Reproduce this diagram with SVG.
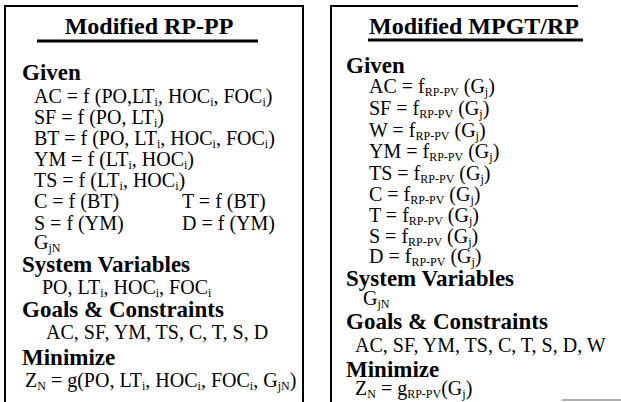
<svg xmlns="http://www.w3.org/2000/svg" width="621" height="402" viewBox="0 0 621 402">
<style>
text{font-family:"Liberation Serif","Times New Roman",serif;fill:#000}
.title{font-size:24px;font-weight:bold}
.head{font-size:23px;font-weight:bold}
.body{font-size:20px}
.sub{font-size:12px}
.frame{fill:none;stroke:#000;stroke-width:2}
.rule{stroke:#000;stroke-width:3}
</style>
<rect width="621" height="402" fill="#fff"/>
<g id="left-panel">
<path class="frame" d="M5,403 V6 H303 V403"/>
<text class="title" x="149" y="34" text-anchor="middle">Modified RP-PP</text>
<line class="rule" x1="37" y1="41" x2="258" y2="41"/>
<text class="head" x="22" y="80">Given</text>
<text class="body" x="34" y="103">AC = f (PO,LT<tspan class="sub" dy="3">i</tspan><tspan dy="-3">, HOC</tspan><tspan class="sub" dy="3">i</tspan><tspan dy="-3">, FOC</tspan><tspan class="sub" dy="3">i</tspan><tspan dy="-3">)</tspan></text>
<text class="body" x="34" y="124">SF = f (PO, LT<tspan class="sub" dy="3">i</tspan><tspan dy="-3">)</tspan></text>
<text class="body" x="34" y="145">BT = f (PO, LT<tspan class="sub" dy="3">i</tspan><tspan dy="-3">, HOC</tspan><tspan class="sub" dy="3">i</tspan><tspan dy="-3">, FOC</tspan><tspan class="sub" dy="3">i</tspan><tspan dy="-3">)</tspan></text>
<text class="body" x="34" y="166">YM = f (LT<tspan class="sub" dy="3">i</tspan><tspan dy="-3">, HOC</tspan><tspan class="sub" dy="3">i</tspan><tspan dy="-3">)</tspan></text>
<text class="body" x="34" y="187">TS = f (LT<tspan class="sub" dy="3">i</tspan><tspan dy="-3">, HOC</tspan><tspan class="sub" dy="3">i</tspan><tspan dy="-3">)</tspan></text>
<text class="body" x="34" y="208">C = f (BT)</text>
<text class="body" x="182" y="208">T = f (BT)</text>
<text class="body" x="34" y="230">S = f (YM)</text>
<text class="body" x="182" y="230">D = f (YM)</text>
<text class="body" x="34" y="249">G<tspan class="sub" dy="3">jN</tspan></text>
<text class="head" x="22" y="272">System Variables</text>
<text class="body" x="42" y="294">PO, LT<tspan class="sub" dy="3">i</tspan><tspan dy="-3">, HOC</tspan><tspan class="sub" dy="3">i</tspan><tspan dy="-3">, FOC</tspan><tspan class="sub" dy="3">i</tspan></text>
<text class="head" x="22" y="317">Goals &amp; Constraints</text>
<text class="body" x="46" y="339">AC, SF, YM, TS, C, T, S, D</text>
<text class="head" x="22" y="365">Minimize</text>
<text class="body" x="25" y="387">Z<tspan class="sub" dy="3">N</tspan><tspan dy="-3"> = g(PO, LT</tspan><tspan class="sub" dy="3">i</tspan><tspan dy="-3">, HOC</tspan><tspan class="sub" dy="3">i</tspan><tspan dy="-3">, FOC</tspan><tspan class="sub" dy="3">i</tspan><tspan dy="-3">, G</tspan><tspan class="sub" dy="3">jN</tspan><tspan dy="-3">)</tspan></text>
</g>
<g id="right-panel">
<path class="frame" d="M331,403 V6 H578"/>
<text class="title" x="474" y="34" text-anchor="middle">Modified MPGT/RP</text>
<line class="rule" x1="368" y1="40" x2="583" y2="40"/>
<text class="head" x="346" y="73">Given</text>
<text class="body" x="369" y="93">AC = f<tspan class="sub" dy="3">RP-PV</tspan><tspan dy="-3"> (G</tspan><tspan class="sub" dy="3">j</tspan><tspan dy="-3">)</tspan></text>
<text class="body" x="369" y="115">SF = f<tspan class="sub" dy="3">RP-PV</tspan><tspan dy="-3"> (G</tspan><tspan class="sub" dy="3">j</tspan><tspan dy="-3">)</tspan></text>
<text class="body" x="369" y="137">W = f<tspan class="sub" dy="3">RP-PV</tspan><tspan dy="-3"> (G</tspan><tspan class="sub" dy="3">j</tspan><tspan dy="-3">)</tspan></text>
<text class="body" x="369" y="158">YM = f<tspan class="sub" dy="3">RP-PV</tspan><tspan dy="-3"> (G</tspan><tspan class="sub" dy="3">j</tspan><tspan dy="-3">)</tspan></text>
<text class="body" x="369" y="180">TS = f<tspan class="sub" dy="3">RP-PV</tspan><tspan dy="-3"> (G</tspan><tspan class="sub" dy="3">j</tspan><tspan dy="-3">)</tspan></text>
<text class="body" x="369" y="201">C = f<tspan class="sub" dy="3">RP-PV</tspan><tspan dy="-3"> (G</tspan><tspan class="sub" dy="3">j</tspan><tspan dy="-3">)</tspan></text>
<text class="body" x="369" y="222">T = f<tspan class="sub" dy="3">RP-PV</tspan><tspan dy="-3"> (G</tspan><tspan class="sub" dy="3">j</tspan><tspan dy="-3">)</tspan></text>
<text class="body" x="369" y="243">S = f<tspan class="sub" dy="3">RP-PV</tspan><tspan dy="-3"> (G</tspan><tspan class="sub" dy="3">j</tspan><tspan dy="-3">)</tspan></text>
<text class="body" x="369" y="263">D = f<tspan class="sub" dy="3">RP-PV</tspan><tspan dy="-3"> (G</tspan><tspan class="sub" dy="3">j</tspan><tspan dy="-3">)</tspan></text>
<text class="head" x="346" y="286">System Variables</text>
<text class="body" x="363" y="305">G<tspan class="sub" dy="3">jN</tspan></text>
<text class="head" x="346" y="329">Goals &amp; Constraints</text>
<text class="body" x="355" y="352">AC, SF, YM, TS, C, T, S, D, W</text>
<text class="head" x="346" y="377">Minimize</text>
<text class="body" x="355" y="395">Z<tspan class="sub" dy="3">N</tspan><tspan dy="-3"> = g</tspan><tspan class="sub" dy="3">RP-PV</tspan><tspan dy="-3">(G</tspan><tspan class="sub" dy="3">j</tspan><tspan dy="-3">)</tspan></text>
</g>
<g id="connectors"/>
<line x1="562" y1="400" x2="621" y2="400" stroke="#999" stroke-width="1.5"/>
</svg>
